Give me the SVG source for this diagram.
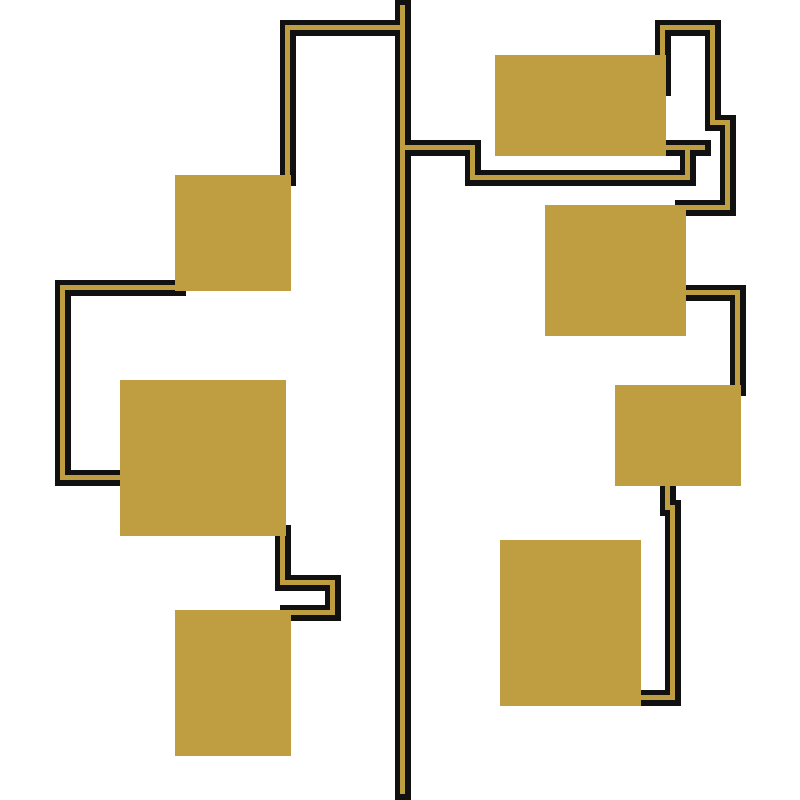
<svg xmlns="http://www.w3.org/2000/svg" width="800" height="800" viewBox="0 0 800 800">
<style>
.k{fill:none;stroke:#111111;stroke-width:16;stroke-linecap:square;stroke-linejoin:miter}
.g{fill:none;stroke:#BF9E41;stroke-width:5;stroke-linecap:square;stroke-linejoin:miter}
.n{fill:#BF9E41}
</style>
<defs>
<g id="wires">
<polyline points="403,8 403,792"/>
<polyline points="288,178 288,28 403,28"/>
<polyline points="178,288 63,288 63,478 125,478"/>
<polyline points="283,533 283,583 333,583 333,613 288,613"/>
<polyline points="403,148 473,148 473,178 688,178 688,148"/>
<polyline points="660,148 703,148"/>
<polyline points="663,88 663,28 713,28 713,123 728,123 728,208 683,208"/>
<polyline points="680,293 738,293 738,388"/>
<polyline points="668,480 668,508 673,508 673,698 635,698"/>
</g>
</defs>
<rect width="800" height="800" fill="#ffffff"/>
<g id="connectors">
<use href="#wires" class="k"/>
<use href="#wires" class="g" transform="translate(-0.5,-0.5)"/>
</g>
<g id="node-a"><rect class="n" x="175" y="175" width="116" height="116"/></g>
<g id="node-b"><rect class="n" x="120" y="380" width="166" height="156"/></g>
<g id="node-c"><rect class="n" x="175" y="610" width="116" height="146"/></g>
<g id="node-1"><rect class="n" x="495" y="55" width="171" height="101"/></g>
<g id="node-2"><rect class="n" x="545" y="205" width="141" height="131"/></g>
<g id="node-3"><rect class="n" x="615" y="385" width="126" height="101"/></g>
<g id="node-4"><rect class="n" x="500" y="540" width="141" height="166"/></g>
</svg>
